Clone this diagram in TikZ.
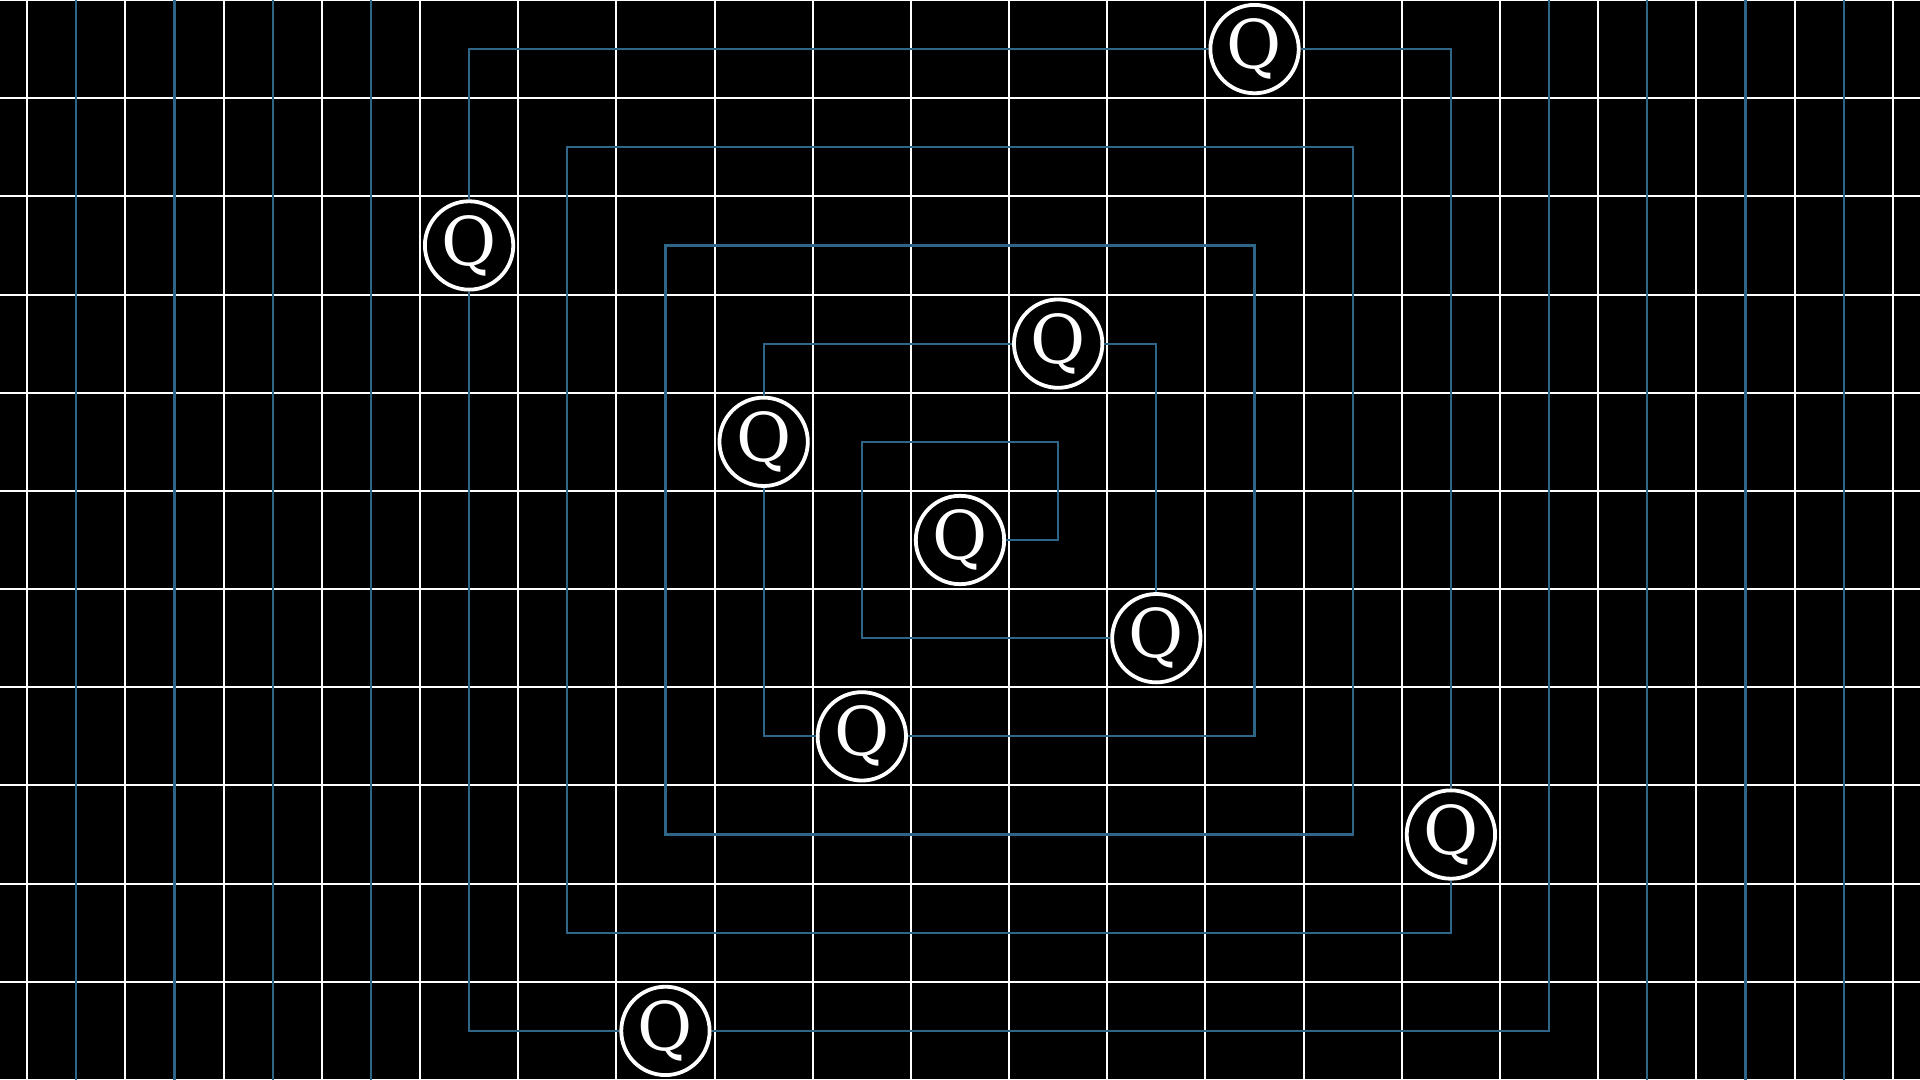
\documentclass[tikz,border=0pt]{standalone}
\usepackage{fontspec}
\setmainfont{DejaVu Serif}
\begin{document}
\begin{tikzpicture}[
  whitegrid/.style={draw=white, line width=0.6pt},
  bluegrid/.style={draw=wireblue, line width=0.65pt},
  wire/.style={draw=wireblue, line width=0.65pt},
  qnode/.style={circle, draw=white, fill=black, line width=1.1pt, minimum size=0.9cm, inner sep=0pt, text=white, font=\fontsize{19.5}{19.5}\selectfont}
]
\definecolor{wireblue}{RGB}{47,102,135}
\fill[black] (-9.7778,-5.5) rectangle (9.7778,5.5);
\useasboundingbox (-9.7778,-5.5) rectangle (9.7778,5.5);
% white grid
\foreach \y in {-5.5,-4.5,...,5.5} \draw[whitegrid] (-9.7778,\y) -- (9.7778,\y);
\foreach \x in {-9.5,-8.5,...,9.5} \draw[whitegrid] (\x,-5.5) -- (\x,5.5);
% blue background verticals
\foreach \x in {-9,-8,-7,-6,7,8,9} \draw[bluegrid] (\x,-5.5) -- (\x,5.5);
% nodes
\node[qnode] (q0) at (0,0) {Q};
\node[qnode] (q1) at (2,-1) {Q};
\node[qnode] (q2) at (1,2) {Q};
\node[qnode] (q3) at (-2,1) {Q};
\node[qnode] (q4) at (-1,-2) {Q};
\node[qnode] (q5) at (5,-3) {Q};
\node[qnode] (q6) at (3,5) {Q};
\node[qnode] (q7) at (-5,3) {Q};
\node[qnode] (q8) at (-3,-5) {Q};
\coordinate (topend) at (6,5.5);
% spiral
\draw[wire] (q0.east) -- (1,0) -- (1,1) -- (-1,1) -- (-1,-1) -- (q1.west);
\draw[wire] (q1.north) -- (2,2) -- (q2.east);
\draw[wire] (q2.west) -- (-2,2) -- (q3.north);
\draw[wire] (q3.south) -- (-2,-2) -- (q4.west);
\draw[wire] (q4.east) -- (3,-2) -- (3,3) -- (-3,3) -- (-3,-3) -- (4,-3) -- (4,4) -- (-4,4) -- (-4,-4) -- (5,-4) -- (q5.south);
\draw[wire] (q5.north) -- (5,5) -- (q6.east);
\draw[wire] (q6.west) -- (-5,5) -- (q7.north);
\draw[wire] (q7.south) -- (-5,-5) -- (q8.west);
\draw[wire] (q8.east) -- (6,-5) -- (topend);
\end{tikzpicture}
\end{document}
